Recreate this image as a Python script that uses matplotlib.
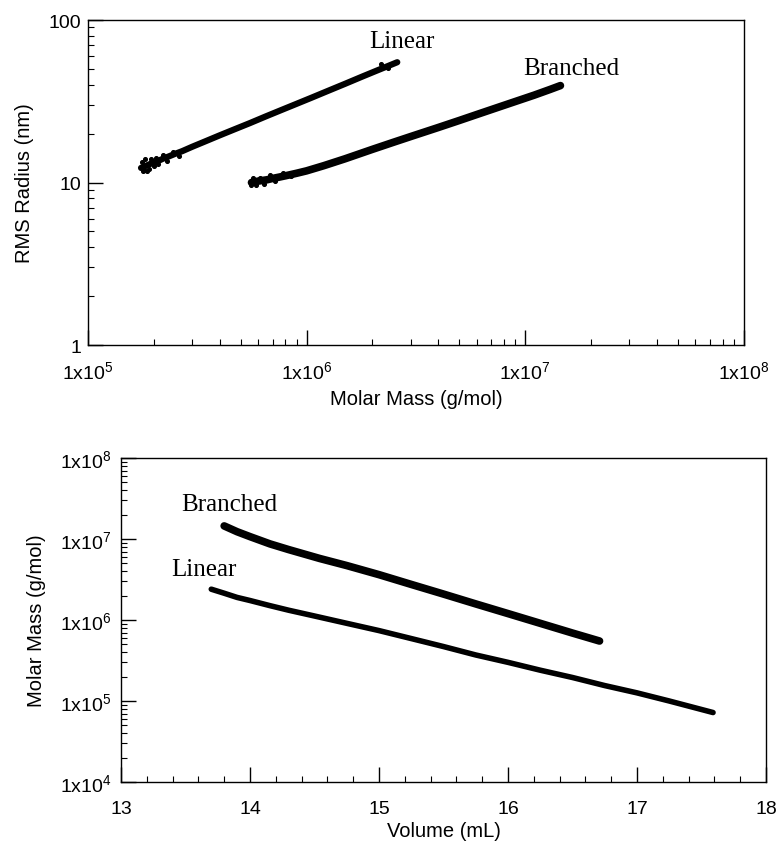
import numpy as np
import matplotlib
matplotlib.use('Agg')
import matplotlib.pyplot as plt
from matplotlib.ticker import FixedLocator, FixedFormatter, LogLocator, MultipleLocator, NullFormatter

plt.rcParams['font.family'] = ['Liberation Sans', 'DejaVu Sans']
plt.rcParams['mathtext.default'] = 'regular'

# --- top panel: RMS radius vs molar mass ---
lin_mass = [1.75e5, 1.8e5, 1.85e5, 1.9e5, 1.95e5, 2.0e5, 2.1e5, 2.2e5, 2.35e5, 2.5e5,
            2.7e5, 3.0e5, 3.4e5, 4.0e5, 4.7e5, 5.5e5, 6.5e5, 7.7e5, 9.0e5, 1.05e6,
            1.25e6, 1.5e6, 1.8e6, 2.1e6, 2.3e6, 2.6e6]
lin_rms = [12.3, 12.5, 12.7, 12.9, 13.1, 13.2, 13.6, 14.0, 14.5, 15.0,
           15.6, 16.6, 17.8, 19.5, 21.3, 23.2, 25.5, 28.0, 30.5, 33.2,
           36.6, 40.5, 44.9, 48.9, 51.4, 55.0]
# scatter around the low-mass end
lin_noise_mass = [1.76e5, 1.78e5, 1.8e5, 1.83e5, 1.86e5, 1.9e5, 1.95e5, 2.0e5, 2.05e5, 2.1e5,
                  2.2e5, 2.3e5, 2.45e5, 2.6e5, 2.2e6, 2.35e6]
lin_noise_rms = [13.4, 11.8, 12.0, 13.9, 11.7, 12.2, 14.0, 12.6, 14.1, 13.0,
                 14.7, 13.6, 15.4, 14.6, 53.5, 50.5]

br_mass = [5.6e5, 5.8e5, 6.0e5, 6.3e5, 6.6e5, 7.0e5, 7.5e5, 8.0e5, 9.0e5, 1.0e6,
           1.2e6, 1.5e6, 2.0e6, 2.5e6, 3.0e6, 4.0e6, 5.0e6, 6.0e6, 7.5e6, 9.0e6,
           1.1e7, 1.3e7, 1.45e7]
br_rms = [10.0, 10.1, 10.2, 10.3, 10.4, 10.6, 10.8, 11.0, 11.4, 11.8,
          12.7, 14.0, 16.0, 17.7, 19.2, 21.8, 24.1, 26.2, 29.0, 31.5,
          34.5, 37.4, 39.5]
br_noise_mass = [5.6e5, 5.7e5, 5.9e5, 6.1e5, 6.4e5, 6.8e5, 7.2e5, 7.8e5, 8.5e5]
br_noise_rms = [9.6, 10.6, 9.7, 10.7, 9.8, 11.1, 10.2, 11.5, 10.9]

# --- bottom panel: molar mass vs elution volume ---
lin_vol = [13.70, 13.80, 13.90, 14.00, 14.15, 14.30, 14.50, 14.75, 15.00, 15.25,
           15.50, 15.75, 16.00, 16.25, 16.50, 16.75, 17.00, 17.25, 17.59]
lin_mm = [2.4e6, 2.14e6, 1.9e6, 1.74e6, 1.51e6, 1.32e6, 1.12e6, 9.1e5, 7.4e5, 5.9e5,
          4.7e5, 3.7e5, 3.0e5, 2.4e5, 1.95e5, 1.55e5, 1.26e5, 1.0e5, 7.2e4]

br_vol = [13.80, 13.90, 14.00, 14.155, 14.30, 14.54, 14.75, 15.00, 15.25, 15.50,
          15.75, 16.00, 16.25, 16.50, 16.71]
br_mm = [1.45e7, 1.23e7, 1.07e7, 8.7e6, 7.4e6, 5.75e6, 4.7e6, 3.63e6, 2.75e6, 2.09e6,
         1.58e6, 1.2e6, 9.1e5, 6.9e5, 5.5e5]

top_xticks = [1e5, 1e6, 1e7, 1e8]
top_xlabels = ['1x10$^{5}$', '1x10$^{6}$', '1x10$^{7}$', '1x10$^{8}$']
top_yticks = [1, 10, 100]
top_ylabels = ['1', '10', '100']
bot_xticks = [13, 14, 15, 16, 17, 18]
bot_yticks = [1e4, 1e5, 1e6, 1e7, 1e8]
bot_ylabels = ['1x10$^{4}$', '1x10$^{5}$', '1x10$^{6}$', '1x10$^{7}$', '1x10$^{8}$']

fig = plt.figure(figsize=(7.78, 8.45), dpi=100)
ax1 = fig.add_axes([0.113, 0.5905, 0.843, 0.3846])
ax2 = fig.add_axes([0.1555, 0.0734, 0.829, 0.3834])

serif = ['Liberation Serif', 'DejaVu Serif']

# top
ax1.plot(lin_mass, lin_rms, color='black', lw=4.5, solid_capstyle='round')
ax1.scatter(lin_noise_mass, lin_noise_rms, s=7, color='black', zorder=3)
ax1.plot(br_mass, br_rms, color='black', lw=5.5, solid_capstyle='round')
ax1.scatter(br_noise_mass, br_noise_rms, s=7, color='black', zorder=3)
ax1.set_xscale('log')
ax1.set_yscale('log')
ax1.set_xlim(1e5, 1e8)
ax1.set_ylim(1, 100)
ax1.xaxis.set_major_locator(FixedLocator(top_xticks))
ax1.xaxis.set_major_formatter(FixedFormatter(top_xlabels))
ax1.yaxis.set_major_locator(FixedLocator(top_yticks))
ax1.yaxis.set_major_formatter(FixedFormatter(top_ylabels))
ax1.xaxis.set_minor_locator(LogLocator(base=10, subs=np.arange(2, 10)))
ax1.yaxis.set_minor_locator(LogLocator(base=10, subs=np.arange(2, 10)))
ax1.xaxis.set_minor_formatter(NullFormatter())
ax1.yaxis.set_minor_formatter(NullFormatter())
ax1.set_xlabel('Molar Mass (g/mol)', fontsize=14.5, labelpad=5)
ax1.set_ylabel('RMS Radius (nm)', fontsize=14.5, labelpad=10)
ax1.text(1.94e6, 74, 'Linear', family=serif, fontsize=18, va='center')
ax1.text(9.8e6, 51, 'Branched', family=serif, fontsize=18, va='center')

# bottom
ax2.plot(lin_vol, lin_mm, color='black', lw=4, solid_capstyle='round')
ax2.plot(br_vol, br_mm, color='black', lw=5.5, solid_capstyle='round')
ax2.set_yscale('log')
ax2.set_xlim(13, 18)
ax2.set_ylim(1e4, 1e8)
ax2.xaxis.set_major_locator(FixedLocator(bot_xticks))
ax2.xaxis.set_minor_locator(MultipleLocator(0.2))
ax2.yaxis.set_major_locator(FixedLocator(bot_yticks))
ax2.yaxis.set_major_formatter(FixedFormatter(bot_ylabels))
ax2.yaxis.set_minor_locator(LogLocator(base=10, subs=np.arange(2, 10)))
ax2.yaxis.set_minor_formatter(NullFormatter())
ax2.set_xlabel('Volume (mL)', fontsize=14.5, labelpad=3)
ax2.set_ylabel('Molar Mass (g/mol)', fontsize=14.5, labelpad=10)
ax2.text(13.465, 2.7e7, 'Branched', family=serif, fontsize=18, va='center')
ax2.text(13.39, 4.3e6, 'Linear', family=serif, fontsize=18, va='center')

for ax in (ax1, ax2):
    ax.tick_params(which='both', direction='in', top=False, right=False, labelsize=14, colors='black')
    ax.tick_params(which='major', length=11, width=1)
    ax.tick_params(which='minor', length=4, width=0.8)
    for s in ax.spines.values():
        s.set_linewidth(1)
ax1.tick_params(axis='x', which='major', pad=11)
ax1.tick_params(axis='y', which='major', pad=5)
ax2.tick_params(axis='x', which='major', pad=13)
ax2.tick_params(axis='y', which='major', pad=7)

fig.savefig('out.png', dpi=100)
